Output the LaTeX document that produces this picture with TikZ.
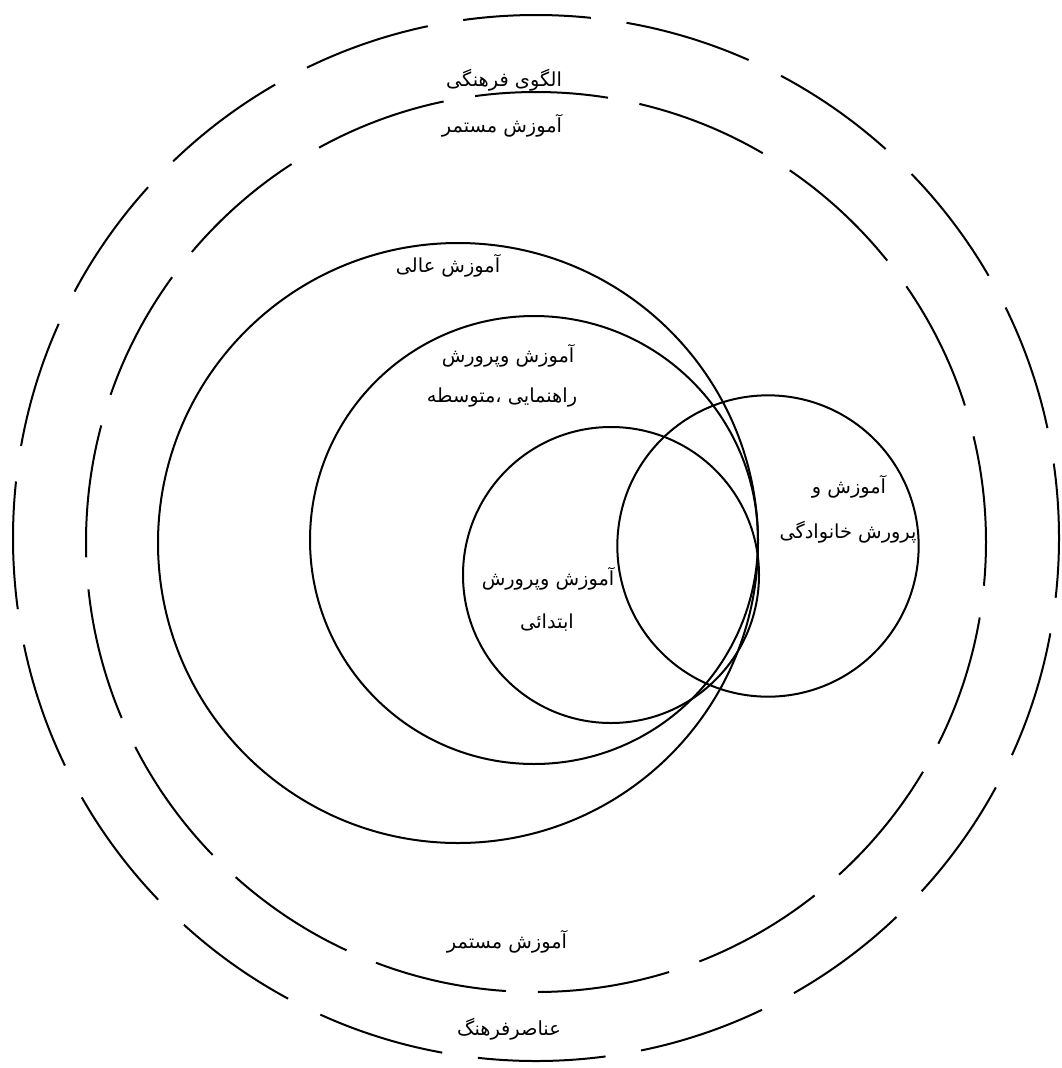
\documentclass[tikz,border=0pt]{standalone}
\usepackage{fontspec}
\newfontfamily\arabicfont[Script=Arabic]{DejaVu Sans}
\TeXXeTstate=1
\begin{document}
\begin{tikzpicture}[x=0.75pt,y=-0.75pt,
  outerring/.style={line width=1.5pt, dash pattern=on 96pt off 27pt, dash phase=40pt},
  innerring/.style={line width=1.5pt, dash pattern=on 100pt off 24pt, dash phase=20pt},
  zone/.style={line width=1.5pt},
  lbl/.style={font=\arabicfont\fontsize{14.5}{17}\selectfont, inner sep=0pt}]
\useasboundingbox (0,0) rectangle (1061,1068);
% centres
\coordinate (cOuter) at (536,538);
\coordinate (cInner) at (536,542);
\coordinate (cHigh) at (458,543);
\coordinate (cMid) at (534,540);
\coordinate (cPrim) at (611,575);
\coordinate (cFam) at (768,546);
% rings
\draw[outerring] (cOuter) circle[radius=392.25pt];
\draw[innerring] (cInner) circle[radius=337.5pt];
% zones
\draw[zone] (cHigh) circle[radius=225pt];
\draw[zone] (cMid) circle[radius=168pt];
\draw[zone] (cPrim) circle[radius=111pt];
\draw[zone] (cFam) circle[radius=113pt];
% labels
\node[lbl] (culture) at (504,80) {\arabicfont\beginR الگوی فرهنگی\endR};
\node[lbl] (contTop) at (502,126) {\arabicfont\beginR آموزش مستمر\endR};
\node[lbl] (high) at (448,266) {\arabicfont\beginR آموزش عالی\endR};
\node[lbl] (mid1) at (508,356) {\arabicfont\beginR آموزش وپرورش\endR};
\node[lbl] (mid2) at (502,398) {\arabicfont\beginR راهنمایی ،متوسطه\endR};
\node[lbl] (prim1) at (548,579) {\arabicfont\beginR آموزش وپرورش\endR};
\node[lbl] (prim2) at (547,623) {\arabicfont\beginR ابتدائی\endR};
\node[lbl] (fam1) at (849,487) {\arabicfont\beginR آموزش و\endR};
\node[lbl] (fam2) at (848,532) {\arabicfont\beginR پرورش خانوادگی\endR};
\node[lbl] (contBot) at (507,942) {\arabicfont\beginR آموزش مستمر\endR};
\node[lbl] (elements) at (509,1029) {\arabicfont\beginR عناصرفرهنگ\endR};
\end{tikzpicture}
\end{document}
